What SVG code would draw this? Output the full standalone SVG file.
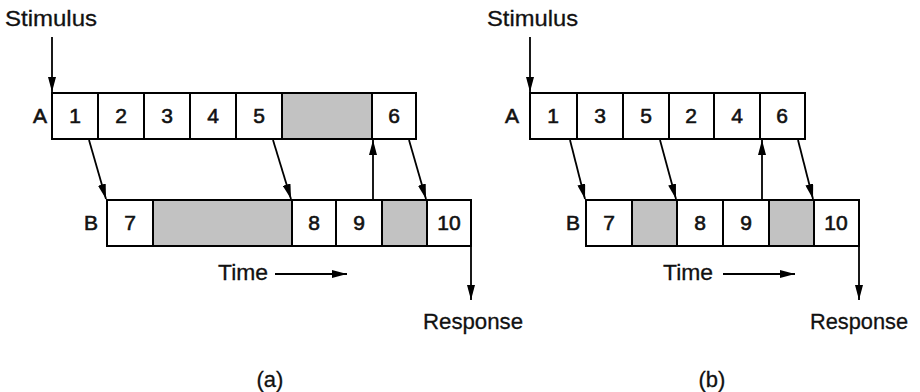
<svg xmlns="http://www.w3.org/2000/svg" width="920" height="392" viewBox="0 0 920 392">
<style>
.cell{fill:#fff;stroke:#000;stroke-width:2}
.shade{fill:#c2c2c2;stroke:#000;stroke-width:2}
.num{font-family:"Liberation Sans",Arial,sans-serif;font-size:21px;text-anchor:middle;fill:#111;stroke:#111;stroke-width:0.6}
.lbl{font-family:"Liberation Sans",Arial,sans-serif;font-size:22px;fill:#111;stroke:#111;stroke-width:0.3}
.row{font-family:"Liberation Sans",Arial,sans-serif;font-size:21px;text-anchor:middle;fill:#111;stroke:#111;stroke-width:0.6}
.con{stroke:#000;stroke-width:1.8;fill:none;marker-end:url(#ah)}
</style>
<defs>
<marker id="ah" markerUnits="userSpaceOnUse" markerWidth="15" markerHeight="8" refX="15" refY="4" orient="auto">
<path d="M0,0 L15,4 L0,8 z" fill="#000"/>
</marker>
</defs>
<rect width="920" height="392" fill="#fff"/>

<!-- Panel (a) -->
<g id="a-labels">
<text class="lbl" x="5" y="26" textLength="92" lengthAdjust="spacingAndGlyphs">Stimulus</text>
<text class="row" x="40" y="123">A</text>
<text class="row" x="91" y="230">B</text>
<text class="lbl" x="218" y="280" textLength="50" lengthAdjust="spacingAndGlyphs">Time</text>
<text class="lbl" x="423" y="329" textLength="100" lengthAdjust="spacingAndGlyphs">Response</text>
<text class="lbl" x="270" y="387" text-anchor="middle">(a)</text>
</g>
<g id="a-A1"><rect class="cell" x="52" y="93" width="46" height="46"/><text class="num" x="75" y="123">1</text></g>
<g id="a-A2"><rect class="cell" x="98" y="93" width="46" height="46"/><text class="num" x="121" y="123">2</text></g>
<g id="a-A3"><rect class="cell" x="144" y="93" width="46" height="46"/><text class="num" x="167" y="123">3</text></g>
<g id="a-A4"><rect class="cell" x="190" y="93" width="46" height="46"/><text class="num" x="213" y="123">4</text></g>
<g id="a-A5"><rect class="cell" x="236" y="93" width="46" height="46"/><text class="num" x="259" y="123">5</text></g>
<g id="a-Aidle"><rect class="shade" x="282" y="93" width="90" height="46"/></g>
<g id="a-A6"><rect class="cell" x="372" y="93" width="44" height="46"/><text class="num" x="394" y="123">6</text></g>

<g id="a-B7"><rect class="cell" x="107" y="200" width="46" height="46"/><text class="num" x="130" y="230">7</text></g>
<g id="a-Bidle1"><rect class="shade" x="153" y="200" width="139" height="46"/></g>
<g id="a-B8"><rect class="cell" x="292" y="200" width="44" height="46"/><text class="num" x="314" y="230">8</text></g>
<g id="a-B9"><rect class="cell" x="336" y="200" width="46" height="46"/><text class="num" x="359" y="230">9</text></g>
<g id="a-Bidle2"><rect class="shade" x="382" y="200" width="45" height="46"/></g>
<g id="a-B10"><rect class="cell" x="427" y="200" width="44" height="46"/><text class="num" x="449" y="230">10</text></g>

<!-- Panel (b) -->
<g id="b-labels">
<text class="lbl" x="487" y="26" textLength="91" lengthAdjust="spacingAndGlyphs">Stimulus</text>
<text class="row" x="512" y="123">A</text>
<text class="row" x="573" y="230">B</text>
<text class="lbl" x="663" y="280" textLength="50" lengthAdjust="spacingAndGlyphs">Time</text>
<text class="lbl" x="810" y="329" textLength="98" lengthAdjust="spacingAndGlyphs">Response</text>
<text class="lbl" x="712" y="387" text-anchor="middle">(b)</text>
</g>
<g id="b-A1"><rect class="cell" x="530" y="93" width="47" height="46"/><text class="num" x="553" y="123">1</text></g>
<g id="b-A3"><rect class="cell" x="577" y="93" width="46" height="46"/><text class="num" x="600" y="123">3</text></g>
<g id="b-A5"><rect class="cell" x="623" y="93" width="46" height="46"/><text class="num" x="646" y="123">5</text></g>
<g id="b-A2"><rect class="cell" x="669" y="93" width="45" height="46"/><text class="num" x="691" y="123">2</text></g>
<g id="b-A4"><rect class="cell" x="714" y="93" width="46" height="46"/><text class="num" x="737" y="123">4</text></g>
<g id="b-A6"><rect class="cell" x="760" y="93" width="45" height="46"/><text class="num" x="782" y="123">6</text></g>

<g id="b-B7"><rect class="cell" x="586" y="200" width="46" height="46"/><text class="num" x="609" y="230">7</text></g>
<g id="b-Bidle1"><rect class="shade" x="632" y="200" width="45" height="46"/></g>
<g id="b-B8"><rect class="cell" x="677" y="200" width="46" height="46"/><text class="num" x="700" y="230">8</text></g>
<g id="b-B9"><rect class="cell" x="723" y="200" width="46" height="46"/><text class="num" x="746" y="230">9</text></g>
<g id="b-Bidle2"><rect class="shade" x="769" y="200" width="45" height="46"/></g>
<g id="b-B10"><rect class="cell" x="814" y="200" width="45" height="46"/><text class="num" x="836" y="230">10</text></g>

<g id="connectors">
<!-- (a) -->
<line class="con" x1="52" y1="37" x2="52" y2="92"/>
<line class="con" x1="89" y1="140" x2="106" y2="199"/>
<line class="con" x1="273" y1="140" x2="291" y2="199"/>
<line class="con" x1="373" y1="200" x2="373" y2="140"/>
<line class="con" x1="409" y1="140" x2="426" y2="199"/>
<line class="con" x1="471" y1="246" x2="471" y2="300"/>
<line class="con" x1="275" y1="274" x2="347" y2="274"/>
<!-- (b) -->
<line class="con" x1="530" y1="37" x2="530" y2="92"/>
<line class="con" x1="570" y1="140" x2="585" y2="199"/>
<line class="con" x1="660" y1="140" x2="676" y2="199"/>
<line class="con" x1="762" y1="200" x2="762" y2="140"/>
<line class="con" x1="798" y1="140" x2="813" y2="199"/>
<line class="con" x1="859" y1="246" x2="859" y2="300"/>
<line class="con" x1="723" y1="274" x2="795" y2="274"/>
</g>
</svg>
